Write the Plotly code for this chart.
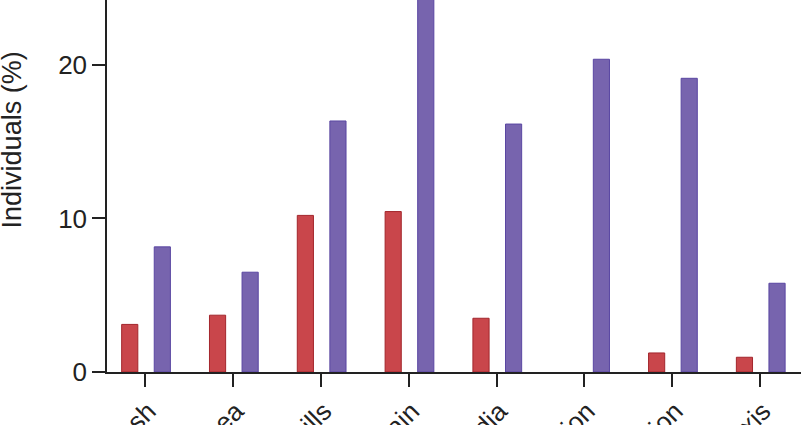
import plotly.graph_objects as go

categories = ["Rash", "Diarrhea", "Chills", "Joint pain", "Tachycardia",
              "Dehydration", "Hospitalization", "Anaphylaxis"]
group_a = [3.1, 3.7, 10.2, 10.45, 3.5, 0.0, 1.24, 0.96]
group_b = [8.15, 6.5, 16.35, 26.0, 16.15, 20.37, 19.13, 5.78]
y_ticks = [0, 10, 20]
y_title = "Individuals (%)"

fig = go.Figure()
fig.add_trace(go.Bar(
    x=categories, y=group_a, name="Group A",
    width=0.184, offset=-0.269,
    marker=dict(color="#c9464b",
                line=dict(color="#a3262c", width=[1 if v > 0 else 0 for v in group_a])),
))
fig.add_trace(go.Bar(
    x=categories, y=group_b, name="Group B",
    width=0.184, offset=0.102,
    marker=dict(color="#7764ae",
                line=dict(color="#5a46a2", width=[1 if v > 0 else 0 for v in group_b])),
))

font_family = "Liberation Sans, Arial, Helvetica, sans-serif"
fig.update_layout(
    width=801, height=425,
    margin=dict(l=107, r=0, t=0, b=53, autoexpand=False),
    plot_bgcolor="white", paper_bgcolor="white",
    showlegend=False,
    barmode="overlay",
    font=dict(family=font_family, size=26, color="#222222"),
)
fig.update_xaxes(
    range=[-0.436, 7.467], automargin=False,
    showline=True, linecolor="#222222", linewidth=1.5,
    ticks="outside", ticklen=13, tickwidth=1.5, tickcolor="#222222",
    tickangle=-45, showgrid=False, zeroline=False,
    ticklabelstandoff=-1, ticklabelshift=3,
    tickfont=dict(size=26, family=font_family, color="#222222"),
)
fig.update_yaxes(
    range=[0, 24.23], automargin=False,
    tickvals=y_ticks, ticktext=[str(v) for v in y_ticks],
    showline=True, linecolor="#222222", linewidth=1.5,
    ticks="outside", ticklen=13, tickwidth=1.5, tickcolor="#222222",
    showgrid=False, zeroline=False,
    tickfont=dict(size=26, family=font_family, color="#222222"),
)
fig.add_annotation(
    text=y_title, textangle=-90, showarrow=False,
    xref="paper", yref="paper", x=-0.137, y=0.625,
    xanchor="center", yanchor="middle",
    font=dict(size=27, family=font_family, color="#222222"),
)

fig.write_html("out.html")
